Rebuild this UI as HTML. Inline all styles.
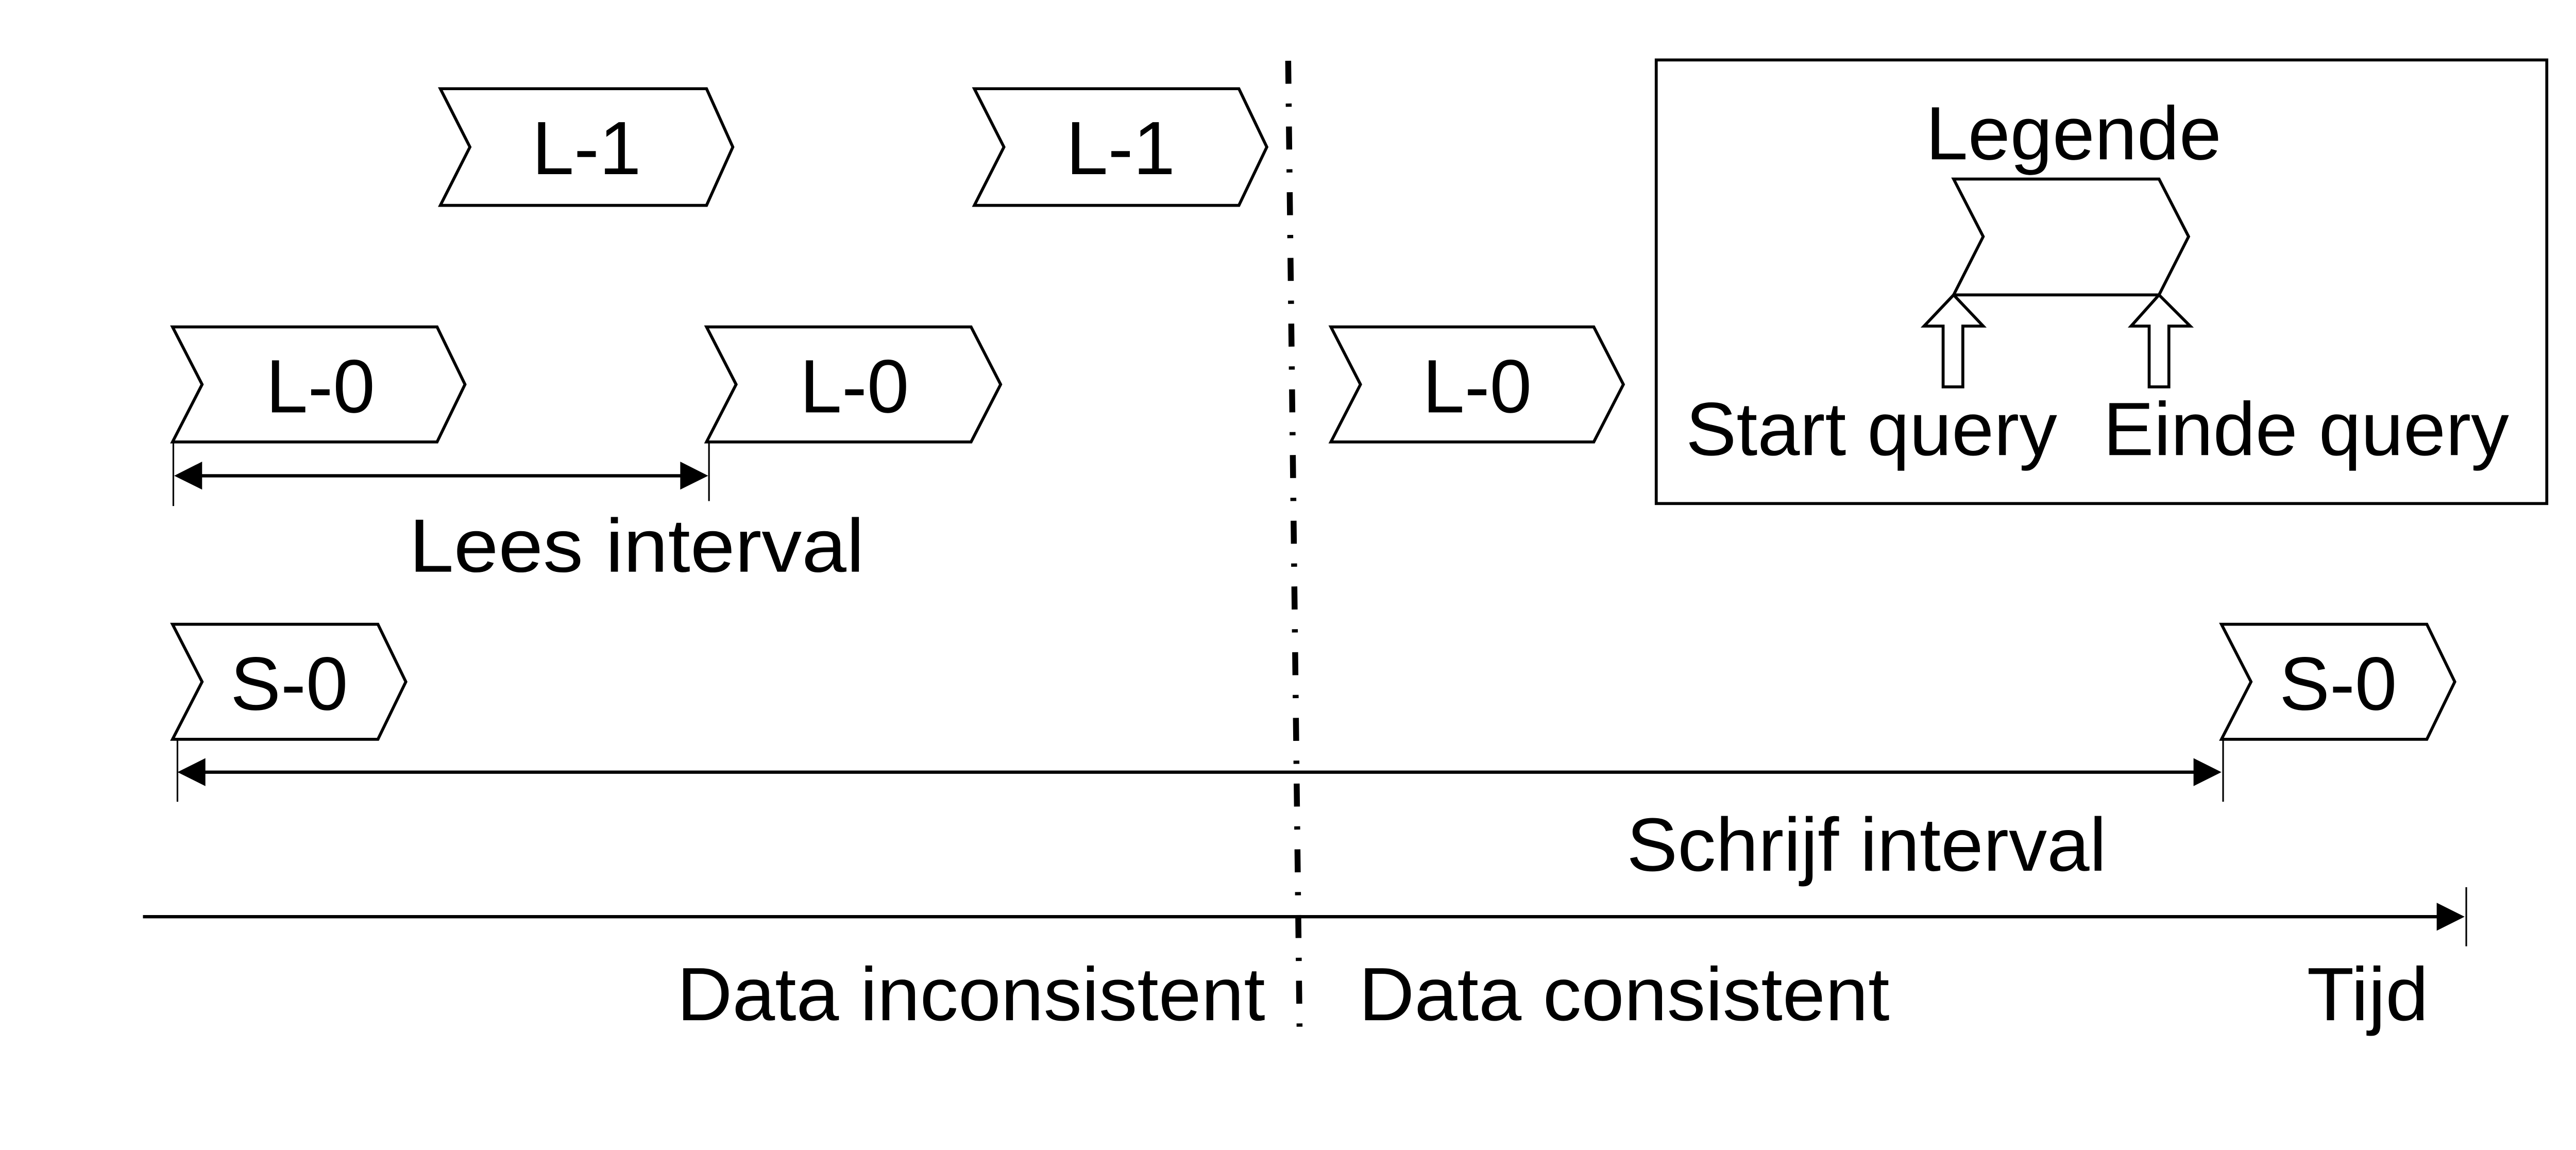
<!DOCTYPE html>
<html><head><meta charset="utf-8"><style>
html,body{margin:0;padding:0;background:#fff;overflow:hidden;}
svg{display:block;}
text{font-family:"Liberation Sans",Arial,sans-serif;fill:#000;}
</style></head><body>
<svg width="5208" height="2232" viewBox="0 0 1633 700" preserveAspectRatio="none" xmlns="http://www.w3.org/2000/svg">
<rect width="1633" height="700" fill="#fff"/>
<g fill="#fff" stroke="#000" stroke-width="1.8" stroke-linejoin="miter">
<polygon points="268,54 430,54 446,89.5 430,125 268,125 286,89.5"/>
<polygon points="593,54 754,54 771,89.5 754,125 593,125 611,89.5"/>
<polygon points="105,199 266,199 283,234 266,269 105,269 123,234"/>
<polygon points="430,199 591,199 609,234 591,269 430,269 448,234"/>
<polygon points="810,199 970,199 988,234 970,269 810,269 828,234"/>
<polygon points="105,380 230,380 247,415 230,450 105,450 123,415"/>
<polygon points="1352,380 1477,380 1494,415 1477,450 1352,450 1370,415"/>
<rect x="1008" y="36.5" width="542" height="270"/>
<polygon points="1189,109 1314,109 1332,144 1314,179.5 1189,179.5 1207,144"/>
<polygon points="1189,179.5 1207,198.5 1194.6,198.5 1194.6,235.5 1182.6,235.5 1182.6,198.5 1171,198.5"/>
<polygon points="1314,179.5 1333,198.5 1320,198.5 1320,235.5 1308,235.5 1308,198.5 1297,198.5"/>
</g>
<g stroke="#000" fill="none">
<line x1="105.5" y1="269" x2="105.5" y2="308" stroke-width="1"/>
<line x1="431.5" y1="269" x2="431.5" y2="305" stroke-width="1"/>
<line x1="120" y1="289.6" x2="418" y2="289.6" stroke-width="2"/>
<line x1="108" y1="450" x2="108" y2="488" stroke-width="1"/>
<line x1="1353" y1="450" x2="1353" y2="488" stroke-width="1"/>
<line x1="120" y1="470" x2="1340" y2="470" stroke-width="2"/>
<line x1="87" y1="558" x2="1488" y2="558" stroke-width="2"/>
<line x1="1501" y1="540" x2="1501" y2="576" stroke-width="1"/>
<line x1="784" y1="37" x2="791" y2="632" stroke-width="3.6" stroke-dasharray="14 12 2 12"/>
</g>
<g fill="#000">
<polygon points="106,289.6 123,281 123,298"/>
<polygon points="431,289.6 414,281 414,298"/>
<polygon points="108,470 125,461.5 125,478.5"/>
<polygon points="1352,470 1335,461.5 1335,478.5"/>
<polygon points="1500,558 1483,549.5 1483,566.5"/>
</g>
<g font-size="46">
<text x="357" y="106" text-anchor="middle">L-1</text>
<text x="682" y="106" text-anchor="middle">L-1</text>
<text x="195" y="251" text-anchor="middle">L-0</text>
<text x="520" y="251" text-anchor="middle">L-0</text>
<text x="899" y="251" text-anchor="middle">L-0</text>
<text x="176" y="432" text-anchor="middle">S-0</text>
<text x="1423" y="432" text-anchor="middle">S-0</text>
<text x="249" y="348" textLength="277" lengthAdjust="spacingAndGlyphs">Lees  interval</text>
<text x="990" y="530" textLength="292" lengthAdjust="spacingAndGlyphs">Schrijf interval</text>
<text x="412" y="621" textLength="358" lengthAdjust="spacingAndGlyphs">Data inconsistent</text>
<text x="827" y="621" textLength="323" lengthAdjust="spacingAndGlyphs">Data consistent</text>
<text x="1404" y="621" textLength="74" lengthAdjust="spacingAndGlyphs">Tijd</text>
<text x="1172" y="97" textLength="180" lengthAdjust="spacingAndGlyphs">Legende</text>
<text x="1026" y="277" textLength="226" lengthAdjust="spacingAndGlyphs">Start query</text>
<text x="1280" y="277" textLength="247" lengthAdjust="spacingAndGlyphs">Einde query</text>
</g>
</svg>
</body></html>
